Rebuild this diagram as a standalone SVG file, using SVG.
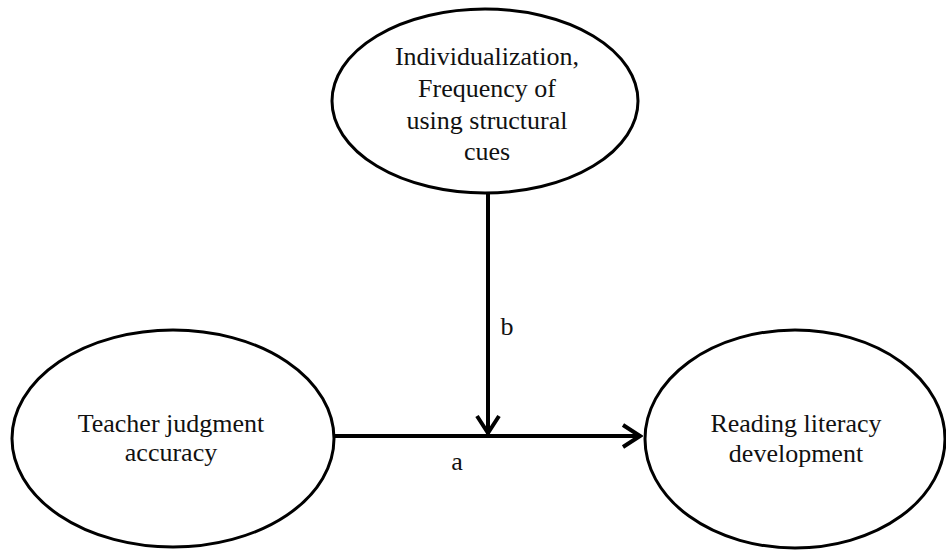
<svg xmlns="http://www.w3.org/2000/svg" width="946" height="550" viewBox="0 0 946 550">
  <style>
    .node ellipse { fill: #ffffff; stroke: #000000; stroke-width: 3; }
    .node text, .label { font-family: "Liberation Serif", "Times New Roman", serif; font-size: 26px; fill: #111111; text-anchor: middle; }
    .edge { stroke: #000000; stroke-width: 4; fill: none; }
  </style>
  <defs>
    <marker id="chev" viewBox="0 0 24 28" refX="22" refY="14" markerWidth="24" markerHeight="28" markerUnits="userSpaceOnUse" orient="auto">
      <path d="M4,3 L21,14 L4,25" fill="none" stroke="#000" stroke-width="4" stroke-linejoin="miter"/>
    </marker>
  </defs>
  <rect width="946" height="550" fill="#ffffff"/>
  <g id="moderator" class="node">
    <ellipse cx="485" cy="101" rx="153" ry="92"/>
    <text x="487" y="65">Individualization,</text>
    <text x="487" y="97">Frequency of</text>
    <text x="487" y="129">using structural</text>
    <text x="487" y="160">cues</text>
  </g>
  <g id="predictor" class="node">
    <ellipse cx="173" cy="438.5" rx="161" ry="108.5"/>
    <text x="171" y="432">Teacher judgment</text>
    <text x="171" y="461">accuracy</text>
  </g>
  <g id="outcome" class="node">
    <ellipse cx="795" cy="439" rx="150" ry="109"/>
    <text x="796" y="432">Reading literacy</text>
    <text x="796" y="462">development</text>
  </g>
  <g id="connectors">
    <line class="edge" x1="334" y1="436" x2="641" y2="436" marker-end="url(#chev)"/>
    <line class="edge" x1="488" y1="193" x2="488" y2="434" marker-end="url(#chev)"/>
    <text class="label" x="507" y="335">b</text>
    <text class="label" x="457" y="470">a</text>
  </g>
</svg>
